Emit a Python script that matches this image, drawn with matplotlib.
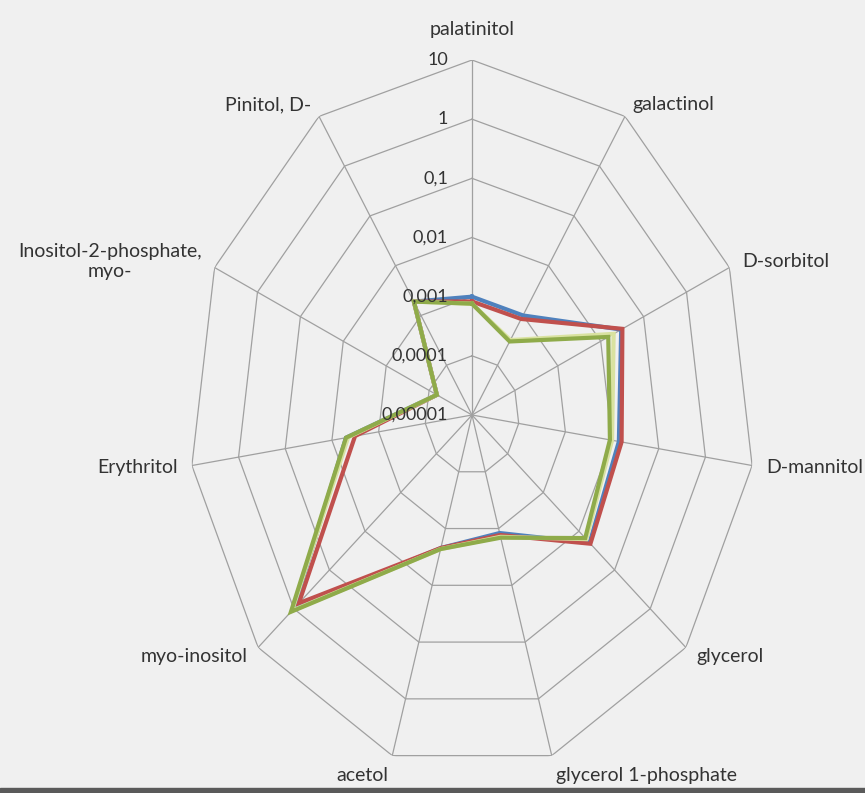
import numpy as np
import matplotlib.pyplot as plt
from matplotlib.patches import Rectangle

categories = ['palatinitol', 'galactinol', 'D-sorbitol', 'D-mannitol', 'glycerol',
              'glycerol 1-phosphate', 'acetol', 'myo-inositol', 'Erythritol',
              'Inositol-2-phosphate,\nmyo-', 'Pinitol, D-']

blue = [1.0e-3, 1.0e-3, 3.0e-2, 1.4e-2, 2.0e-2, 1.2e-3, 2.2e-3, 1.0, 5.0e-3, 6.6e-5, 1.9e-3]
red = [8.3e-4, 8.5e-4, 3.2e-2, 1.6e-2, 2.1e-2, 1.3e-3, 2.2e-3, 7.2e-1, 3.2e-3, 6.6e-5, 1.9e-3]
yellow = [7.6e-4, 3.2e-4, 2.0e-2, 1.0e-2, 1.6e-2, 1.4e-3, 2.3e-3, 1.12, 4.5e-3, 6.6e-5, 1.9e-3]
green = [7.6e-4, 3.0e-4, 1.5e-2, 9.0e-3, 1.5e-2, 1.45e-3, 2.3e-3, 1.2, 5.0e-3, 6.6e-5, 1.9e-3]

ticks = [1e-5, 1e-4, 1e-3, 1e-2, 1e-1, 1, 10]
tick_labels = ['0,00001', '0,0001', '0,001', '0,01', '0,1', '1', '10']

plt.rcParams['font.family'] = ['Lato', 'DejaVu Sans']

n = len(categories)
angles = np.linspace(0, 2 * np.pi, n, endpoint=False)
closed = np.append(angles, angles[0])

fig = plt.figure(figsize=(8.65, 7.93), dpi=100, facecolor='#f0f0f0')
ax = fig.add_axes([189 / 865, 23 / 793, 566 / 865, 710 / 793], projection='polar')
ax.set_aspect('auto')
ax.set_theta_zero_location('N')
ax.set_theta_direction(-1)
ax.set_rscale('log')
ax.set_rlim(1e-5, 10)
ax.grid(False)
ax.set_xticks([])
ax.set_yticks([])
ax.spines['polar'].set_visible(False)
ax.patch.set_alpha(0)

grid_col = '#a0a0a0'
for t in ticks[1:]:
    ax.plot(closed, [t] * (n + 1), color=grid_col, lw=0.9, zorder=1)
for a in angles:
    ax.plot([a, a], [ticks[0], ticks[-1]], color=grid_col, lw=0.9, zorder=1)

for vals, col in [(blue, '#4f81bd'), (red, '#c0504d'), (yellow, '#d9e2a0'), (green, '#8fab4a')]:
    ax.plot(closed, vals + vals[:1], color=col, lw=3, zorder=3, solid_joinstyle='miter')

txt_col = '#333333'
for t, lab in zip(ticks, tick_labels):
    ax.annotate(lab, xy=(0, t), xytext=(-24, 0), textcoords='offset pixels',
                ha='right', va='center', fontsize=13, color=txt_col, zorder=4,
                annotation_clip=False)

for a, lab in zip(angles, categories):
    s, c = np.sin(a), np.cos(a)
    if abs(s) < 0.05:
        ha = 'center'
    elif s > 0:
        ha = 'left'
    else:
        ha = 'right'
    off = 14
    dx, dy = off * s, off * c
    if abs(c) > 0.9:
        dy = 20 * np.sign(c) if abs(s) > 0.05 else 30 * np.sign(c)
    ax.annotate(lab, xy=(a, 10), xytext=(dx, dy), textcoords='offset pixels',
                ha=ha, va='center', multialignment='center', fontsize=14,
                color=txt_col, annotation_clip=False)

fig.patches.append(Rectangle((0, 0), 1, 5 / 793, transform=fig.transFigure,
                             color='#5a5a5a', zorder=0))

fig.savefig('out.png', dpi=100, facecolor=fig.get_facecolor())
